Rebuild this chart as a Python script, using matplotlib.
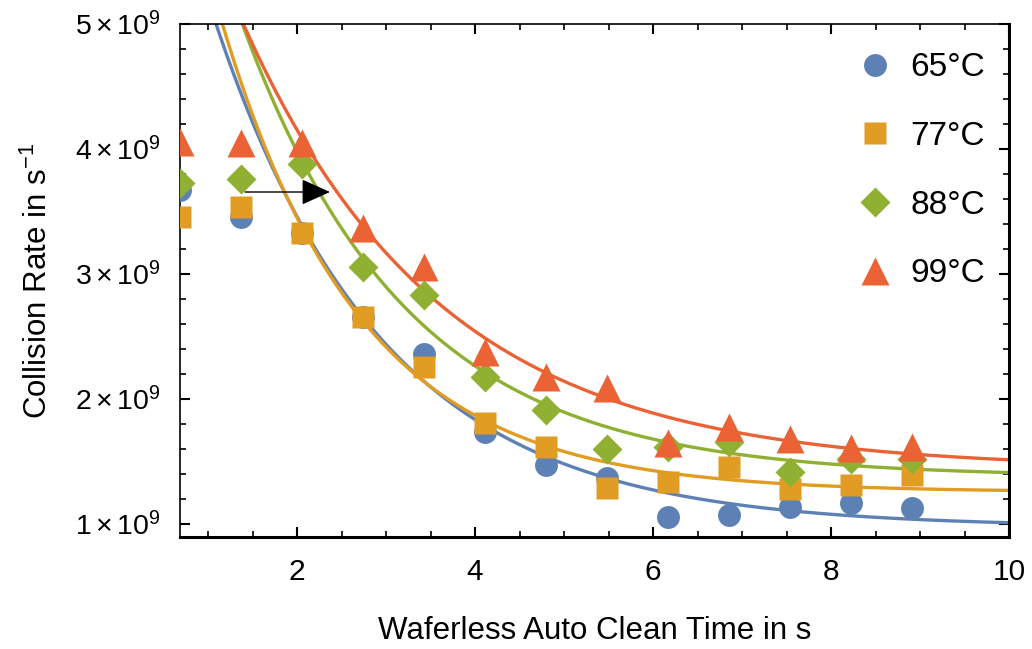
import numpy as np
from matplotlib import pyplot as plt
from matplotlib import rcParams
from matplotlib.ticker import MultipleLocator, FixedLocator

# MPL settings
rcParams["font.family"] = "Liberation Sans"
rcParams["mathtext.fontset"] = "custom"
rcParams["mathtext.rm"] = "Liberation Sans"
rcParams["mathtext.it"] = "Liberation Sans:italic"
rcParams["font.size"] = 22

# measured data (time in s, rate in 1e9 / s)
clean_time = [0.685, 1.37, 2.055, 2.74, 3.425, 4.11, 4.795, 5.48, 6.165, 6.85, 7.535, 8.22, 8.905]
rate_65 = [3.67, 3.46, 3.33, 2.66, 2.36, 1.74, 1.47, 1.37, 1.06, 1.07, 1.14, 1.17, 1.13]
rate_77 = [3.46, 3.54, 3.33, 2.66, 2.26, 1.81, 1.62, 1.29, 1.34, 1.46, 1.28, 1.31, 1.39]
rate_88 = [3.73, 3.76, 3.88, 3.06, 2.83, 2.18, 1.91, 1.60, 1.62, 1.66, 1.42, 1.52, 1.52]
rate_99 = [4.06, 4.05, 4.05, 3.37, 3.06, 2.38, 2.18, 2.09, 1.65, 1.78, 1.68, 1.61, 1.62]

labels = ["65°C", "77°C", "88°C", "99°C"]
colors = ["#5E81B5", "#E19C24", "#8FB032", "#EB6235"]
markers = ["o", "s", "D", "^"]
msizes = [16.5, 16, 15, 20]

y_ticks = [1, 2, 3, 4, 5]
y_ticklabels = [r"$1\times10^{9}$", r"$2\times10^{9}$", r"$3\times10^{9}$",
                r"$4\times10^{9}$", r"$5\times10^{9}$"]

# first two points are left out of the fit
n_skip = 2
arrow_start = (1.416, 3.656)
arrow_end = (2.37, 3.656)


def fit_decay(t, y):
    # y = a + b exp(-c t), brute force on c, linear lstsq on a, b
    best = None
    for c in np.linspace(0.05, 3, 3000):
        A = np.column_stack([np.ones_like(t), np.exp(-c * t)])
        coef = np.linalg.lstsq(A, y, rcond=None)[0]
        r = np.sum((A @ coef - y) ** 2)
        if best is None or r < best[0]:
            best = (r, c, coef)
    return best[2][0], best[2][1], best[1]


t = np.array(clean_time)
t_fine = np.linspace(0.5, 10.2, 400)

fig = plt.figure(figsize=(10.32, 6.49), dpi=100)
ax = fig.add_axes([180 / 1032, 1 - 537 / 649, (1009 - 180) / 1032, (537 - 24) / 649])

handles = []
for rates, lab, col, mk, ms in zip([rate_65, rate_77, rate_88, rate_99], labels, colors, markers, msizes):
    y = np.array(rates)
    a, b, c = fit_decay(t[n_skip:], y[n_skip:])
    ax.plot(t_fine, a + b * np.exp(-c * t_fine), color=col, lw=2.4, zorder=2)
    (h,) = ax.plot(t, y, ls="none", marker=mk, ms=ms, color=col, mec="none", label=lab, zorder=3)
    handles.append(h)

ax.annotate(
    "",
    xy=arrow_end,
    xytext=arrow_start,
    arrowprops=dict(arrowstyle="-|>,head_length=1.0,head_width=0.45", mutation_scale=18,
                    color="black", lw=1.0, shrinkA=0, shrinkB=0),
    zorder=5,
)

ax.set_xlim(0.685, 10)
ax.set_ylim(0.896, 5)
ax.xaxis.set_major_locator(FixedLocator([2, 4, 6, 8, 10]))
ax.xaxis.set_minor_locator(MultipleLocator(0.5))
ax.yaxis.set_major_locator(FixedLocator(y_ticks))
ax.set_yticklabels(y_ticklabels, fontsize=20.5)
ax.yaxis.set_minor_locator(MultipleLocator(0.2))

ax.tick_params(which="both", direction="in", top=True, right=True, labeltop=False, labelright=False)
ax.tick_params(which="major", length=7, width=1.5)
ax.tick_params(which="minor", length=4, width=1.2)
ax.tick_params(axis="x", pad=15, labelsize=21.5)
ax.tick_params(axis="y", pad=14)

for side in ["top", "left"]:
    ax.spines[side].set_linewidth(1.2)
for side in ["bottom", "right"]:
    ax.spines[side].set_linewidth(2.2)

ax.set_xlabel("Waferless Auto Clean Time in s", fontsize=22.5, labelpad=22)
ax.set_ylabel(r"Collision Rate in s$^{-1}$", fontsize=22.5, labelpad=15)

ax.legend(handles=handles, loc="upper right", bbox_to_anchor=(0.987, 0.971), frameon=False,
          fontsize=24, labelspacing=1.13, handletextpad=0.45, handlelength=1.2, borderaxespad=0)

plt.savefig("out.png", dpi=100)
